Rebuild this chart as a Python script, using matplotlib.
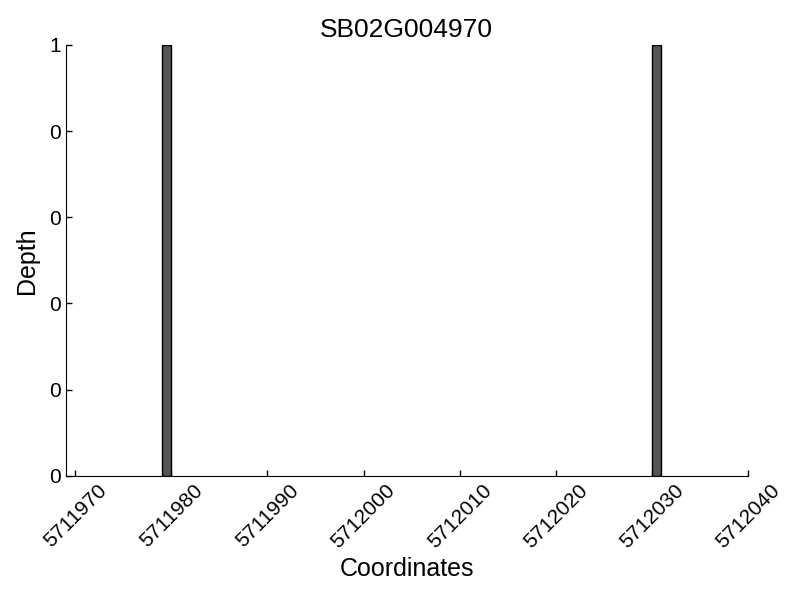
"""
Per-position depth bars for SB02G004970.
"""

import matplotlib
matplotlib.use("Agg")
import matplotlib.pyplot as plt
from matplotlib.ticker import FormatStrFormatter

gene = "SB02G004970"
positions = [5711979, 5712030]
depths = [1, 1]
x_ticks = [5711970, 5711980, 5711990, 5712000, 5712010, 5712020, 5712030, 5712040]
y_ticks = [0, 0.2, 0.4, 0.6, 0.8, 1.0]

plt.rcParams["font.family"] = ["Liberation Sans", "DejaVu Sans"]

fig = plt.figure(figsize=(8, 6), dpi=100)
ax = fig.add_axes([0.082, 0.207, 0.853, 0.718])

ax.bar(positions, depths, width=1, align="edge",
       color="#555555", edgecolor="black", linewidth=1)

ax.set_xlim(5711969, 5712040)
ax.set_ylim(0, 1)
ax.set_xticks(x_ticks)
ax.set_xticklabels([str(t) for t in x_ticks], rotation=45, ha="center",
                   fontsize=15)
ax.set_yticks(y_ticks)
ax.yaxis.set_major_formatter(FormatStrFormatter("%d"))
ax.tick_params(axis="y", labelsize=15)
ax.tick_params(direction="in", length=4, width=1)

ax.spines["top"].set_visible(False)
ax.spines["right"].set_visible(False)

ax.set_title(gene, fontsize=19, pad=5.5)
ax.set_xlabel("Coordinates", fontsize=18)
ax.set_ylabel("Depth", fontsize=18, labelpad=7)

fig.savefig("out.png")
